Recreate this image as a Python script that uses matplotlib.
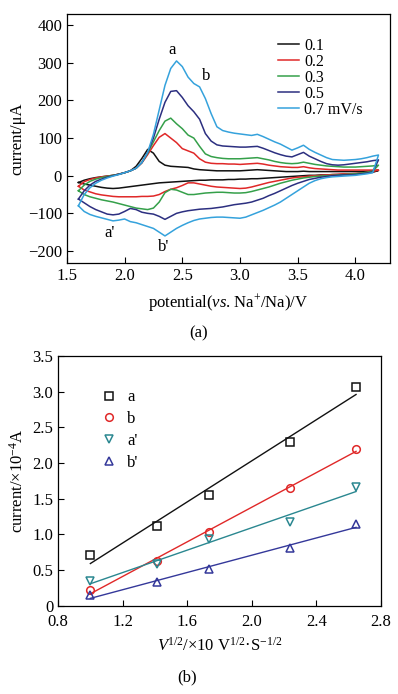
import numpy as np
import matplotlib.pyplot as plt
from matplotlib.ticker import FuncFormatter

plt.rcParams['font.family'] = ['Liberation Serif', 'DejaVu Serif']
plt.rcParams['mathtext.fontset'] = 'custom'
plt.rcParams['mathtext.rm'] = 'Liberation Serif'
plt.rcParams['mathtext.it'] = 'Liberation Serif:italic'
plt.rcParams['font.size'] = 12

# ============================
# (a) CV data, potential grid in V, current in uA
# ============================
potential = np.round(np.arange(1.60, 4.2001, 0.05), 2)

scan_rates = ["0.1", "0.2", "0.3", "0.5", "0.7 mV/s"]
cv_colors = ["#111111", "#e02828", "#35a04a", "#2c2f80", "#35a2dc"]

anodic_01 = [-18, -12, -8, -5, -3, -1, 1, 4, 8, 13,
             25, 46, 70, 60, 38, 28, 25, 24, 23, 22,
             18, 16, 15, 14, 13, 13, 13, 13, 13, 14,
             15, 16, 15, 14, 13, 12, 11, 11, 11, 12,
             11, 11, 11, 11, 11, 11, 11, 11, 11, 11,
             12, 13, 14]
cathodic_01 = [-18, -22, -25, -28, -31, -33, -34, -33, -31, -29,
               -27, -25, -23, -21, -19, -18, -17, -16, -15, -14,
               -13, -12, -12, -11, -11, -11, -10, -10, -9, -9,
               -8, -8, -7, -6, -5, -4, -3, -2, -1, 0,
               1, 1, 2, 2, 3, 3, 4, 4, 5, 6,
               7, 9, 14]

anodic_02 = [-28, -16, -10, -6, -3, -1, 1, 4, 8, 13,
             20, 34, 56, 80, 102, 112, 100, 88, 72, 66,
             60, 45, 36, 33, 32, 32, 31, 31, 30, 31,
             32, 33, 31, 28, 26, 24, 23, 22, 22, 24,
             21, 19, 18, 17, 16, 15, 15, 15, 15, 15,
             15, 15, 15]
cathodic_02 = [-28, -38, -43, -48, -51, -53, -55, -56, -56, -56,
               -56, -55, -55, -54, -50, -42, -36, -32, -26, -19,
               -19, -22, -25, -28, -30, -31, -32, -33, -34, -33,
               -30, -26, -22, -18, -15, -12, -9, -6, -4, -3,
               -1, 0, 1, 2, 3, 4, 5, 5, 6, 7,
               9, 11, 15]

anodic_03 = [-40, -25, -15, -9, -5, -2, 1, 4, 8, 13,
             20, 35, 60, 90, 120, 145, 153, 138, 125, 108,
             100, 78, 58, 51, 48, 46, 45, 45, 45, 46,
             47, 48, 45, 42, 38, 35, 33, 32, 33, 36,
             33, 30, 28, 26, 25, 24, 23, 23, 23, 24,
             25, 26, 28]
cathodic_03 = [-40, -50, -56, -60, -64, -67, -70, -74, -78, -82,
               -86, -88, -90, -86, -70, -45, -36, -38, -44, -50,
               -50, -48, -46, -45, -44, -44, -45, -46, -46, -45,
               -42, -38, -34, -30, -25, -20, -16, -12, -9, -6,
               -4, -2, -1, 0, 1, 2, 3, 4, 5, 7,
               9, 12, 28]

anodic_05 = [-62, -40, -25, -15, -9, -4, 0, 4, 8, 13,
             20, 35, 62, 100, 150, 195, 224, 226, 208, 186,
             170, 150, 112, 92, 82, 79, 78, 77, 76, 76,
             77, 78, 73, 67, 61, 56, 52, 50, 56, 62,
             52, 45, 38, 32, 29, 28, 29, 31, 33, 35,
             37, 40, 42]
cathodic_05 = [-62, -72, -82, -90, -96, -102, -104, -102, -95, -87,
               -90, -97, -100, -102, -108, -116, -108, -100, -96, -93,
               -91, -89, -88, -87, -85, -83, -80, -77, -75, -73,
               -70, -65, -60, -53, -47, -40, -33, -26, -20, -15,
               -10, -7, -4, -2, 0, 1, 2, 2, 3, 5,
               7, 10, 42]

anodic_07 = [-80, -50, -32, -20, -12, -6, -1, 3, 8, 13,
             20, 35, 62, 110, 175, 240, 285, 305, 290, 262,
             245, 236, 205, 165, 130, 120, 116, 113, 111, 109,
             107, 110, 104, 97, 90, 84, 76, 68, 74, 81,
             70, 62, 55, 48, 43, 42, 41, 42, 43, 45,
             48, 52, 55]
cathodic_07 = [-80, -95, -103, -108, -112, -116, -120, -118, -115, -122,
               -125, -130, -135, -140, -150, -160, -150, -140, -132, -125,
               -119, -115, -113, -111, -110, -110, -111, -112, -113, -110,
               -104, -98, -92, -85, -78, -70, -60, -50, -40, -30,
               -20, -13, -8, -5, -3, -2, -1, 0, 1, 3,
               5, 8, 55]

anodic_all = [anodic_01, anodic_02, anodic_03, anodic_05, anodic_07]
cathodic_all = [cathodic_01, cathodic_02, cathodic_03, cathodic_05, cathodic_07]

# ============================
# (b) peak current vs sqrt(scan rate)
# ============================
sqrt_rate = [1.0, 1.414, 1.732, 2.236, 2.646]
peak_a = [0.71, 1.12, 1.56, 2.30, 3.07]
peak_b = [0.22, 0.63, 1.03, 1.65, 2.20]
peak_a2 = [0.35, 0.58, 0.93, 1.18, 1.67]
peak_b2 = [0.15, 0.33, 0.52, 0.81, 1.15]
peak_names = ["a", "b", "a'", "b'"]
peak_colors = ["#111111", "#e02828", "#2a8790", "#34389a"]
peak_markers = ["s", "o", "v", "^"]

fig = plt.figure(figsize=(3.98, 6.94), dpi=100)

# ---------- panel (a) ----------
ax1 = fig.add_axes([0.168, 0.621, 0.812, 0.359])
for an, ca, lab, col in zip(anodic_all, cathodic_all, scan_rates, cv_colors):
    v = np.concatenate([potential, potential[::-1]])
    i = np.concatenate([an, ca[::-1]])
    ax1.plot(v, i, color=col, lw=1.1, label=lab)

ax1.set_xlim(1.5, 4.3)
ax1.set_ylim(-232, 430)
ax1.set_xticks([1.5, 2.0, 2.5, 3.0, 3.5, 4.0])
ax1.set_yticks([-200, -100, 0, 100, 200, 300, 400])
ax1.set_xlabel(r'potential($\it{vs}$. Na$^{+}$/Na)/V', labelpad=6)
ax1.set_ylabel('current/μA', labelpad=2)
ax1.legend(loc='upper left', bbox_to_anchor=(0.63, 0.935), frameon=False,
           handlelength=1.3, handletextpad=0.3, labelspacing=0.0,
           borderpad=0, fontsize=11.5)

ax1.text(2.41, 333, "a", ha='center', va='center')
ax1.text(2.71, 264, "b", ha='center', va='center')
ax1.text(1.87, -152, "a'", ha='center', va='center')
ax1.text(2.34, -190, "b'", ha='center', va='center')

# ---------- panel (b) ----------
ax2 = fig.add_axes([0.146, 0.127, 0.811, 0.360])
for vals, lab, col, mk in zip([peak_a, peak_b, peak_a2, peak_b2],
                              peak_names, peak_colors, peak_markers):
    ax2.plot(sqrt_rate, vals, linestyle='none', marker=mk, ms=5.5,
             mfc='none', mec=col, mew=1.1, label=lab)
    k, b = np.polyfit(sqrt_rate, vals, 1)
    xs = np.array([sqrt_rate[0], sqrt_rate[-1]])
    ax2.plot(xs, k * xs + b, color=col, lw=1.0)

ax2.set_xlim(0.8, 2.8)
ax2.set_ylim(0, 3.5)
ax2.set_xticks([0.8, 1.2, 1.6, 2.0, 2.4, 2.8])
ax2.set_yticks([0, 0.5, 1.0, 1.5, 2.0, 2.5, 3.0, 3.5])
ax2.yaxis.set_major_formatter(FuncFormatter(lambda y, p: "0" if y == 0 else f"{y:.1f}"))
ax2.set_xlabel(r'$\it{V}$$^{1/2}$/×10 V$^{1/2}$·S$^{-1/2}$', labelpad=5)
ax2.set_ylabel('current/×10$^{-4}$A', labelpad=4)
ax2.legend(loc='upper left', bbox_to_anchor=(0.11, 0.9), frameon=False,
           numpoints=1, handlelength=0.8, handletextpad=0.7,
           labelspacing=0.35, borderpad=0, fontsize=12)

for ax in (ax1, ax2):
    ax.tick_params(direction='in', length=4, width=0.8, labelsize=12,
                   top=False, right=False)
    for s in ax.spines.values():
        s.set_linewidth(0.9)
ax2.tick_params(axis='x', pad=6)

fig.text(0.5, 1 - 333 / 694, "(a)", ha='center', va='center', fontsize=12)
fig.text(0.47, 1 - 677 / 694, "(b)", ha='center', va='center', fontsize=12)

plt.savefig("out.png", dpi=100)
